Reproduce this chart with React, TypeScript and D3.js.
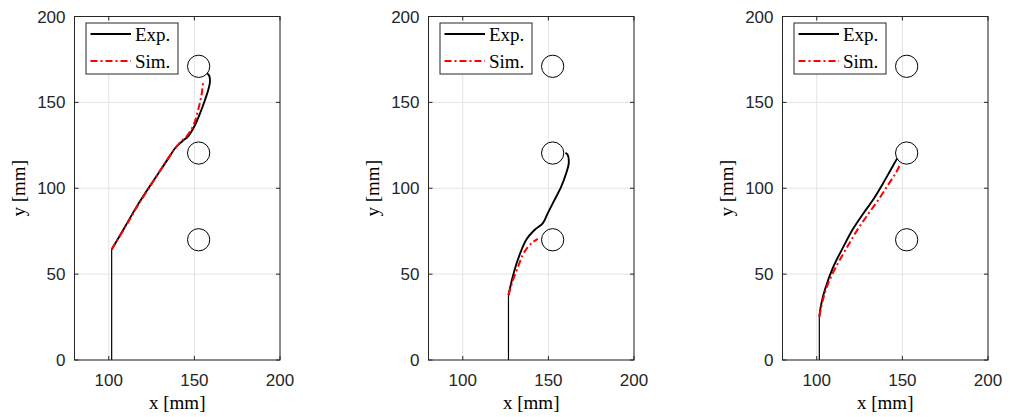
import React from "react";
import * as d3 from "d3";

type Pt = [number, number];

// Axis limits and ticks shared by all three panels
const xDomain: [number, number] = [80, 200];
const yDomain: [number, number] = [0, 200];
const xTicks = [100, 150, 200];
const yTicks = [0, 50, 100, 150, 200];

// Obstacle circles (centre x, centre y) in mm, radius in mm
const obstacles: Pt[] = [
  [152.5, 171],
  [152.5, 120.5],
  [152.5, 70],
];
const obstacleR = 6.5;

// Straight approach segment before each trajectory
const approachA: Pt[] = [[101.7, 0], [101.7, 64.4]];
const approachB: Pt[] = [[126.7, 0], [126.7, 37.8]];
const approachC: Pt[] = [[101.5, 0], [101.5, 25.2]];

// Panel 1 trajectories
const expA: Pt[] = [
  [101.7, 64.4], [109.5, 77.6], [116.3, 89.3], [125.1, 102.9], [134.8, 117.4],
  [138.7, 123.3], [142.6, 127.1], [146.5, 130.4], [150.4, 136.8], [153.3, 143.6],
  [156.2, 151.4], [158.1, 157.2], [159.1, 162], [158.7, 165.4], [157.5, 166.9],
];
const simA: Pt[] = [
  [101.7, 64.4], [110, 78], [117, 90], [126, 104], [135, 118], [141, 126],
  [146, 131], [149.6, 137], [152.3, 146], [154.3, 155], [155.2, 163],
];

// Panel 2 trajectories
const expB: Pt[] = [
  [126.7, 37.8], [129.2, 48.5], [132.1, 58.2], [137.0, 69.9], [141.9, 75.7],
  [146.7, 79.6], [149.6, 85.4], [153.6, 93.2], [157.5, 100.9], [160.4, 108.7],
  [161.9, 114.5], [161.3, 119.4], [160.0, 120.7],
];
const simB: Pt[] = [
  [126.7, 37.8], [129.2, 46.2], [132.1, 53.8], [135.1, 61.3], [138, 65.8],
  [140.9, 68.6], [143.8, 70.5],
];

// Panel 3 trajectories
const expC: Pt[] = [
  [101.5, 25.2], [102.7, 33], [104.8, 41], [109.7, 54.3], [115.6, 66],
  [121.3, 76.5], [127, 85], [133, 93.5], [138.5, 102.5], [142.5, 109.5],
  [145, 114], [147, 117.4],
];
const simC: Pt[] = [
  [101.5, 25.2], [103.6, 35], [106.6, 44.5], [112.2, 56], [118.2, 66.5],
  [124.2, 76.5], [130.4, 85.5], [136.5, 94], [142, 102.5], [146.5, 109.5],
  [149, 114.5],
];

const legendLabels = ["Exp.", "Sim."];

const panelData = [
  { approach: approachA, exp: expA, sim: simA },
  { approach: approachB, exp: expB, sim: simB },
  { approach: approachC, exp: expC, sim: simC },
];

const W = 1010;
const H = 417;
const panelLefts = [74.5, 428.5, 782.5];
const panelW = 205.5;
const top = 16.5;
const bottom = 360;

const axisColor = "#262626";
const gridColor = "#e3e3e3";
const sansFont = "'Liberation Sans', Arial, sans-serif";
const serifFont = "'Liberation Serif', 'Times New Roman', serif";
const simDash = "7,3,2,3";

function Panel({ left, data }: { left: number; data: typeof panelData[number] }) {
  const x = d3.scaleLinear().domain(xDomain).range([left, left + panelW]);
  const y = d3.scaleLinear().domain(yDomain).range([bottom, top]);
  const line = d3
    .line<Pt>()
    .x((d) => x(d[0]))
    .y((d) => y(d[1]))
    .curve(d3.curveCatmullRom.alpha(0.5));
  const straight = d3
    .line<Pt>()
    .x((d) => x(d[0]))
    .y((d) => y(d[1]));
  const rPx = x(xDomain[0] + obstacleR) - x(xDomain[0]);
  const tickLen = 4;
  const lgX = left + 11.5;
  const lgY = top + 6.5;

  return (
    <g>
      {/* grid */}
      {xTicks.map((t) => (
        <line key={"gx" + t} x1={x(t)} x2={x(t)} y1={top} y2={bottom} stroke={gridColor} strokeWidth={1} />
      ))}
      {yTicks.map((t) => (
        <line key={"gy" + t} x1={left} x2={left + panelW} y1={y(t)} y2={y(t)} stroke={gridColor} strokeWidth={1} />
      ))}

      {/* obstacles */}
      {obstacles.map((c, i) => (
        <circle key={"c" + i} cx={x(c[0])} cy={y(c[1])} r={rPx} fill="none" stroke="#000" strokeWidth={1} />
      ))}

      {/* trajectories */}
      <path d={straight(data.approach) || ""} fill="none" stroke="#000" strokeWidth={1.2} />
      <path d={line(data.exp) || ""} fill="none" stroke="#000" strokeWidth={1.9} strokeLinejoin="round" />
      <path d={line(data.sim) || ""} fill="none" stroke="#ff0000" strokeWidth={2} strokeDasharray={simDash} />

      {/* axes box and ticks */}
      <rect x={left} y={top} width={panelW} height={bottom - top} fill="none" stroke={axisColor} strokeWidth={1} />
      {xTicks.map((t) => (
        <g key={"tx" + t}>
          <line x1={x(t)} x2={x(t)} y1={bottom} y2={bottom - tickLen} stroke={axisColor} />
          <line x1={x(t)} x2={x(t)} y1={top} y2={top + tickLen} stroke={axisColor} />
          <text x={x(t)} y={386} textAnchor="middle" fontFamily={sansFont} fontSize={17} fill={axisColor}>
            {t}
          </text>
        </g>
      ))}
      {yTicks.map((t) => (
        <g key={"ty" + t}>
          <line x1={left} x2={left + tickLen} y1={y(t)} y2={y(t)} stroke={axisColor} />
          <line x1={left + panelW} x2={left + panelW - tickLen} y1={y(t)} y2={y(t)} stroke={axisColor} />
          <text x={left - 9} y={y(t) + 6} textAnchor="end" fontFamily={sansFont} fontSize={17} fill={axisColor}>
            {t}
          </text>
        </g>
      ))}

      {/* axis labels */}
      <text x={left + panelW / 2} y={409} textAnchor="middle" fontFamily={serifFont} fontSize={19} fill="#000">
        x [mm]
      </text>
      <text
        transform={`translate(${left - 50},${(top + bottom) / 2}) rotate(-90)`}
        textAnchor="middle"
        fontFamily={serifFont}
        fontSize={19}
        fill="#000"
      >
        y [mm]
      </text>

      {/* legend */}
      <rect x={lgX} y={lgY} width={92} height={51} fill="#fff" stroke={axisColor} strokeWidth={1} />
      <line x1={lgX + 4.5} x2={lgX + 45} y1={lgY + 11} y2={lgY + 11} stroke="#000" strokeWidth={1.9} />
      <line x1={lgX + 4.5} x2={lgX + 45} y1={lgY + 38} y2={lgY + 38} stroke="#ff0000" strokeWidth={2} strokeDasharray={simDash} />
      {legendLabels.map((l, i) => (
        <text key={l} x={lgX + 49} y={lgY + 17.5 + i * 27} fontFamily={serifFont} fontSize={19} fill="#000">
          {l}
        </text>
      ))}
    </g>
  );
}

export default function App() {
  return (
    <svg width={W} height={H} style={{ position: "absolute", left: 0, top: 0, background: "#fff" }}>
      <rect x={0} y={0} width={W} height={H} fill="#fff" />
      {panelData.map((p, i) => (
        <Panel key={i} left={panelLefts[i]} data={p} />
      ))}
    </svg>
  );
}
